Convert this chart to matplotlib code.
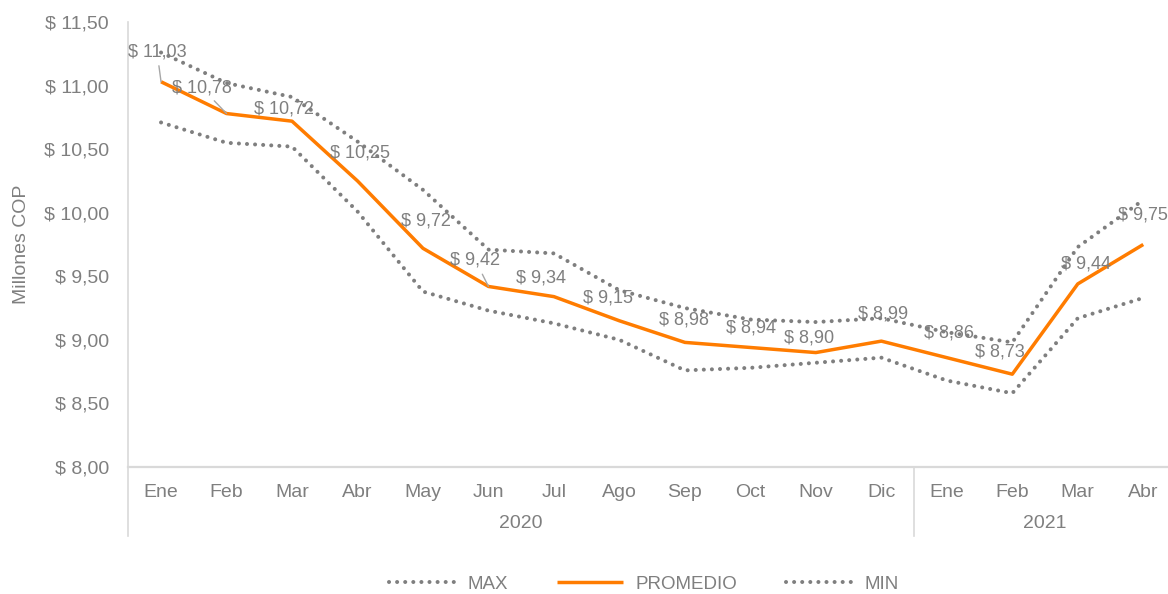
import matplotlib
matplotlib.use("Agg")
import matplotlib.pyplot as plt
import matplotlib.transforms as mtransforms

plt.rcParams['font.family'] = ['Liberation Sans', 'DejaVu Sans']

# data
months = ['Ene', 'Feb', 'Mar', 'Abr', 'May', 'Jun', 'Jul', 'Ago', 'Sep', 'Oct', 'Nov', 'Dic',
          'Ene', 'Feb', 'Mar', 'Abr']
years = ['2020', '2021']
year_span = [(0, 11), (12, 15)]
max_vals = [11.26, 11.02, 10.91, 10.56, 10.18, 9.71, 9.68, 9.39, 9.25, 9.16, 9.14, 9.17,
            9.06, 8.98, 9.73, 10.10]
promedio = [11.03, 10.78, 10.72, 10.25, 9.72, 9.42, 9.34, 9.15, 8.98, 8.94, 8.90, 8.99,
            8.86, 8.73, 9.44, 9.75]
min_vals = [10.71, 10.55, 10.52, 10.01, 9.38, 9.23, 9.13, 9.00, 8.76, 8.78, 8.82, 8.86,
            8.68, 8.58, 9.17, 9.33]

# label offsets in pixels (dx, dy) and which labels get a leader line
label_offsets = [(-4, 30), (-25, 26), (-8, 12), (3, 28), (3, 27), (-13, 26), (-13, 19),
                 (-11, 23), (-1, 22), (1, 19), (-7, 15), (2, 27), (2, 25), (-12, 22),
                 (8, 20), (0, 29)]
leaders = [0, 1, 5]

gray = '#7F7F7F'
orange = '#FF7C00'
axis_gray = '#D9D9D9'

fig = plt.figure(figsize=(11.68, 5.94), dpi=100)
ax = fig.add_axes([128.3 / 1168, 1 - 467 / 594, (1176 - 128.3) / 1168, 445 / 594])

x = list(range(len(months)))
dots = (0, (0.01, 2.0))
ax.plot(x, max_vals, color=gray, lw=2.9, linestyle=dots, dash_capstyle='round', label='MAX')
ax.plot(x, promedio, color=orange, lw=2.5, solid_capstyle='butt', label='PROMEDIO', zorder=3)
ax.plot(x, min_vals, color=gray, lw=2.9, linestyle=dots, dash_capstyle='round', label='MIN')

for i, v in enumerate(promedio):
    txt = '$ ' + f'{v:.2f}'.replace('.', ',')
    dx, dy = label_offsets[i]
    arrow = dict(arrowstyle='-', color='#A6A6A6', lw=1.0, shrinkA=2, shrinkB=0) if i in leaders else None
    ax.annotate(txt, (i, v), xytext=(dx, dy), textcoords='offset pixels', ha='center',
                va='center', fontsize=13, color=gray, arrowprops=arrow, zorder=4)

ax.set_xlim(-0.5, 15.5)
ax.set_ylim(8, 11.5)
ax.set_yticks([8 + 0.5 * k for k in range(8)])
ax.set_yticklabels(['$ ' + f'{8 + 0.5 * k:.2f}'.replace('.', ',') for k in range(8)])
ax.set_xticks(x)
ax.set_xticklabels(months)
ax.tick_params(axis='both', length=0, labelsize=14, labelcolor=gray)
ax.tick_params(axis='x', pad=12)
ax.tick_params(axis='y', pad=14)

for s in ['top', 'right']:
    ax.spines[s].set_visible(False)
ax.spines['left'].set_color(axis_gray)
ax.spines['bottom'].set_color(axis_gray)
ax.spines['left'].set_linewidth(1.2)
ax.spines['bottom'].set_linewidth(1.6)

# category separators and year labels below the axis
trans = mtransforms.blended_transform_factory(ax.transData, ax.transAxes)
bottom = -(536 - 467) / 445
for sx in [-0.5, 11.5]:
    ax.plot([sx, sx], [0, bottom], transform=trans, color=axis_gray, lw=1.2, clip_on=False)
for yr, (a, b) in zip(years, year_span):
    ax.text((a + b) / 2, -(524 - 467) / 445, yr, transform=trans, ha='center', va='center',
            fontsize=14, color=gray)

ax.set_ylabel('Millones COP', fontsize=14, color=gray, labelpad=10)

leg = fig.legend(loc='center', bbox_to_anchor=(644 / 1168, 1 - 584 / 594), ncol=3, frameon=False,
                 fontsize=13.5, handlelength=3.5, handletextpad=0.7, columnspacing=2.6)
for t in leg.get_texts():
    t.set_color(gray)

fig.savefig('out.png', dpi=100)
